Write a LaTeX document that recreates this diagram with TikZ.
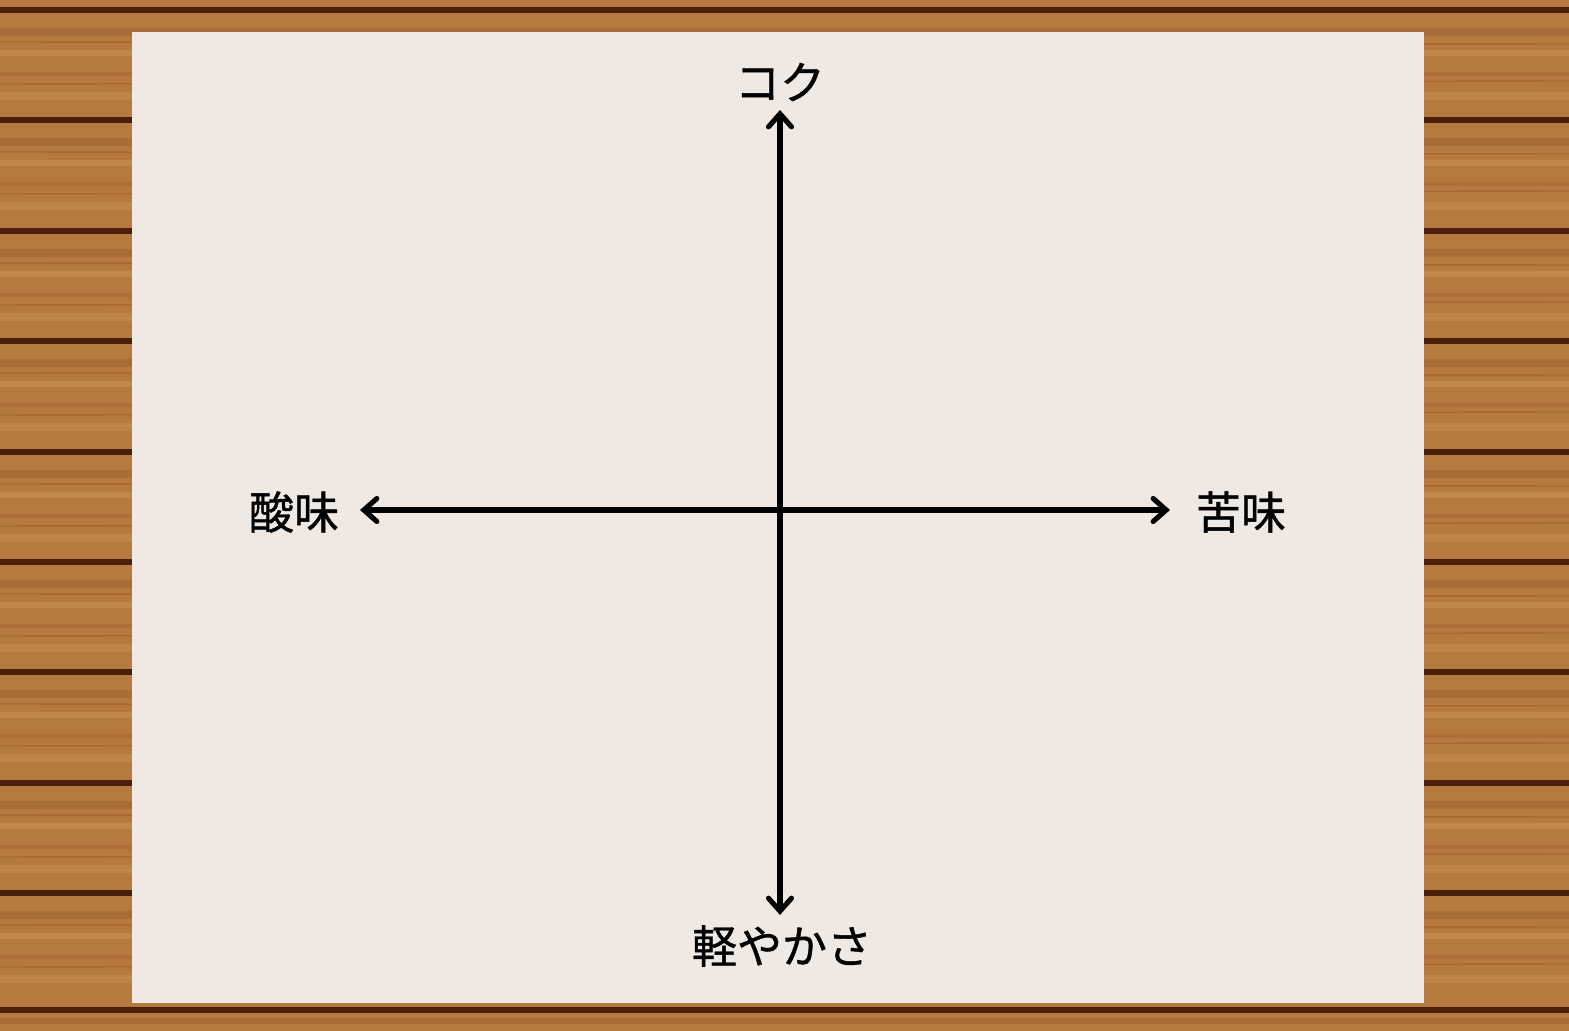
\documentclass[tikz,border=0pt]{standalone}
\usepackage{fontspec}
\newfontfamily\jpfont[FakeBold=0.9]{Noto Sans CJK JP}
\usetikzlibrary{arrows.meta}
\definecolor{woodbase}{HTML}{B77A3E}
\definecolor{wooddark}{HTML}{96562A}
\definecolor{woodlight}{HTML}{CF9A5A}
\definecolor{woodseam}{HTML}{4A1F0C}
\definecolor{paper}{HTML}{F0E8E3}
\tikzset{
	axislabel/.style={font=\jpfont\fontsize{12.8pt}{15pt}\selectfont,inner sep=0pt},
	axisline/.style={line width=1.45pt,black,{Straight Barb[length=1.3mm,width=2.3mm,line cap=round]}-{Straight Barb[length=1.3mm,width=2.3mm,line cap=round]},line cap=round}
}
\begin{document}
\begin{tikzpicture}[x=0.01cm,y=-0.01cm,line join=round]
			\useasboundingbox (0,0) rectangle (1569,1031);
			% wooden table
			\fill[woodbase] (0,0) rectangle (1569,1031);
			\foreach \py in {10,120,231,341,452,562,672,783,893} {
				\fill[wooddark,opacity=0.35] (0,\py+18) rectangle (1569,\py+26);
				\fill[woodlight,opacity=0.45] (0,\py+40) rectangle (1569,\py+46);
				\fill[wooddark,opacity=0.3] (0,\py+62) rectangle (1569,\py+66);
				\fill[woodlight,opacity=0.35] (0,\py+82) rectangle (1569,\py+90);
				\draw[wooddark,opacity=0.5,line width=0.4pt] (0,\py+32) -- (1569,\py+34);
				\draw[wooddark,opacity=0.5,line width=0.4pt] (0,\py+74) -- (1569,\py+71);
			}
			\fill[wooddark,opacity=0.35] (0,1018) rectangle (1569,1024);
			\foreach \py in {10,120,231,341,452,562,672,783,893,1010} {
				\draw[woodseam,line width=1.6pt] (0,\py) -- (1569,\py);
			}
			% sheet of paper
			\fill[paper] (132,32) rectangle (1424,1003);
			
			\node[axislabel] (koku) at (780,82) {コク};
			\node[axislabel] (karoyaka) at (782,946) {軽やかさ};
			\node[axislabel] (sanmi) at (294,512) {酸味};
			\node[axislabel] (nigami) at (1241,512) {苦味};
			
			\coordinate (kokuTip) at (780,110);
			\coordinate (karoyakaTip) at (780,915);
			\coordinate (sanmiTip) at (360,510);
			\coordinate (nigamiTip) at (1170,510);
			
			\draw[axisline] (kokuTip) -- (karoyakaTip);
			\draw[axisline] (sanmiTip) -- (nigamiTip);
		\end{tikzpicture}
\end{document}
